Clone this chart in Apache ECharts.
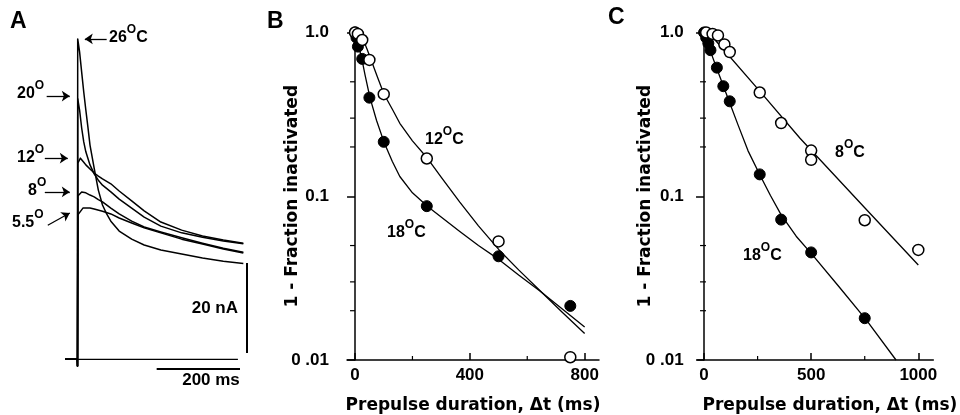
<!DOCTYPE html>
<html>
<head>
<meta charset="utf-8">
<script src="https://cdn.jsdelivr.net/npm/echarts@6/dist/echarts.min.js"></script>
<style>
html, body { margin: 0; padding: 0; background: #fff; }
#chart { width: 960px; height: 415px; }
</style>
</head>
<body>
<div id="chart"></div>
<script>
// ---- panel A: current traces, [time (ms), current (nA)] ----
var trace26 = [[-30,0],[-0.5,0],[0,-1.5],[0.5,71.2],[5,68.3],[10,63.8],[15,59.4],[20,55.4],[25,51.6],[30,47.6],[40,42.5],[50,37.6],[60,34.3],[70,32.3],[80,30.7],[100,28.5],[130,26.7],[160,25.4],[200,24.3],[250,23.4],[300,22.5],[350,21.8],[398,21.3]];
var trace20 = [[-30,0],[-0.5,0],[0,-1.5],[0.6,57.9],[5,55.4],[10,51.4],[15,48.3],[20,46.1],[30,43.2],[40,41.2],[50,39.8],[60,38.7],[80,37.2],[100,35.6],[130,33.6],[160,31.6],[200,29.6],[250,28.1],[300,27.1],[350,26.3],[398,25.7]];
var trace12 = [[-30,0],[-0.5,0],[0,-1.5],[0.7,43.6],[7,44.7],[15,43.8],[20,43.2],[30,42.3],[40,41.4],[50,40.7],[60,40.1],[80,39.0],[100,37.4],[130,35.2],[160,33.0],[200,30.5],[250,28.7],[300,27.4],[350,26.5],[398,25.8]];
var trace8 = [[-30,0],[-0.5,0],[0,-1.5],[0.8,36.3],[10,37.2],[20,37.0],[30,36.5],[40,36.1],[50,35.5],[60,35.0],[80,33.6],[100,32.3],[130,30.7],[160,29.4],[200,28.3],[250,27.0],[300,25.8],[350,24.7],[398,23.8]];
var trace55 = [[-30,0],[-0.5,0],[0,-1.5],[0.9,32.1],[13,33.6],[30,33.6],[40,33.4],[60,32.9],[80,32.3],[100,31.4],[130,30.3],[160,29.2],[200,28.1],[250,26.7],[300,25.6],[350,24.5],[398,23.6]];
var baseline = [[-30,0],[385,0]];
var barTime = [190, 390];      // 200 ms
var barCurrent = [1.4, 21.4];  // 20 nA

// ---- panel B: 1 - fraction inactivated vs prepulse duration ----
var b18Points = [[0,1.0],[5,0.93],[10,0.82],[25,0.69],[50,0.40],[100,0.215],[250,0.087],[500,0.043],[750,0.0214]];
var b12Points = [[0,1.0],[10,0.98],[25,0.9],[50,0.68],[100,0.42],[250,0.17],[500,0.053],[750,0.0104]];
var b18Fit = [[0,1.0],[10,0.86],[23,0.70],[35,0.55],[52,0.40],[75,0.29],[101,0.214],[130,0.163],[156,0.132],[200,0.105],[253,0.0865],[300,0.0748],[365,0.061],[430,0.050],[502,0.041],[570,0.033],[643,0.0265],[720,0.0206],[800,0.0159]];
var b12Fit = [[0,1.0],[15,0.96],[29,0.9],[42,0.79],[56,0.68],[78,0.535],[101,0.42],[130,0.34],[156,0.279],[200,0.218],[253,0.17],[300,0.131],[365,0.092],[430,0.066],[502,0.047],[570,0.0355],[643,0.0267],[720,0.0197],[800,0.0145]];

// ---- panel C ----
var c18Points = [[0,1.0],[10,0.93],[20,0.86],[30,0.78],[60,0.61],[90,0.47],[120,0.38],[260,0.136],[360,0.072],[500,0.0454],[750,0.018]];
var c8Points = [[10,1.0],[40,0.98],[65,0.96],[95,0.845],[120,0.76],[260,0.43],[360,0.28],[500,0.19],[500,0.167],[750,0.0714],[1000,0.047]];
var c18Fit = [[0,1.0],[25,0.8],[56,0.62],[117,0.38],[160,0.27],[205,0.19],[262,0.134],[310,0.101],[360,0.077],[430,0.057],[505,0.044],[630,0.028],[758,0.0175],[896,0.01]];
var c8Fit = [[20,1.0],[83,0.81],[262,0.435],[448,0.226],[750,0.085],[1000,0.038]];

// ---- ticks ----
var yTickValues = [0.01, 0.1, 1];
var yTickLabels = ['0 .01', '0.1', '1.0'];
var yMinorTicks = [0.02, 0.03, 0.05, 0.2, 0.3, 0.5];
var bMajorX = [0, 400, 800];
var bMinorX = [200, 600];
var cMajorX = [0, 500, 1000];
var cMinorX = [250, 750];

var black = '#000';
var helv = '"Liberation Sans", Arial, Helvetica, sans-serif';
var wide = '"DejaVu Sans", "Liberation Sans", sans-serif';

var myChart = echarts.init(document.getElementById('chart'), null, { renderer: 'canvas' });

function yLabel(v) {
    for (var i = 0; i < yTickValues.length; i++) {
        if (Math.abs(Math.log10(v) - Math.log10(yTickValues[i])) < 0.01) return yTickLabels[i];
    }
    return '';
}

function trace(data) {
    return {
        type: 'line', xAxisIndex: 0, yAxisIndex: 0, data: data,
        showSymbol: false, smooth: false, clip: false, silent: true,
        lineStyle: { color: black, width: 1.5, join: 'round' }
    };
}

function fitLine(ax, data) {
    return {
        type: 'line', xAxisIndex: ax, yAxisIndex: ax, data: data,
        showSymbol: false, smooth: false, clip: false, silent: true,
        lineStyle: { color: black, width: 1.3, join: 'round' }, z: 2
    };
}

function dots(ax, data, open) {
    return {
        type: 'scatter', xAxisIndex: ax, yAxisIndex: ax, data: data,
        symbol: 'circle', symbolSize: 11, clip: false, silent: true, z: open ? 4 : 3,
        itemStyle: open
            ? { color: '#fff', borderColor: black, borderWidth: 1.5, opacity: 1 }
            : { color: black, borderColor: black, borderWidth: 1, opacity: 1 }
    };
}

// short tick marks drawn at axis positions (log minor ticks and x minor ticks)
function yTicks(ax, left, right) {
    return {
        type: 'custom', xAxisIndex: ax, yAxisIndex: ax, silent: true, clip: false, z: 5,
        data: yMinorTicks.map(function (v) { return [0, v]; }),
        renderItem: function (params, api) {
            var p = api.coord([api.value(0), api.value(1)]);
            return {
                type: 'line',
                shape: { x1: p[0] - left, y1: p[1], x2: p[0] + right, y2: p[1] },
                style: { stroke: black, lineWidth: 1.2 }
            };
        }
    };
}

function xTicks(ax, ticks) {
    return {
        type: 'custom', xAxisIndex: ax, yAxisIndex: ax, silent: true, clip: false, z: 5,
        data: ticks.map(function (v) { return [v, 0.01]; }),
        renderItem: function (params, api) {
            var p = api.coord([api.value(0), api.value(1)]);
            return {
                type: 'line',
                shape: { x1: p[0], y1: p[1], x2: p[0], y2: p[1] - 4 },
                style: { stroke: black, lineWidth: 1.2 }
            };
        }
    };
}

function logAxis(grid, margin, gap) {
    return {
        type: 'log', gridIndex: grid, min: 0.01, max: 1, logBase: 10,
        axisLine: { show: true, onZero: true, lineStyle: { color: black, width: 1.5 } },
        axisTick: { show: true, length: 8, lineStyle: { color: black, width: 1.5 } },
        axisLabel: { margin: margin, color: black, fontFamily: helv, fontWeight: 'bold', fontSize: 17, formatter: yLabel },
        splitLine: { show: false },
        name: '1 - Fraction inactivated', nameLocation: 'middle', nameGap: gap, nameMoveOverlap: false,
        nameTextStyle: { color: black, fontFamily: wide, fontWeight: 'bold', fontSize: 17 }
    };
}

function timeAxis(grid, min, max, ticks, padLeft) {
    return {
        type: 'value', gridIndex: grid, min: min, max: max, position: 'bottom',
        axisLine: { onZero: false, lineStyle: { color: black, width: 1.5 } },
        axisTick: { inside: true, length: 7, customValues: ticks, lineStyle: { color: black, width: 1.5 } },
        axisLabel: {
            customValues: ticks, margin: 7, color: black, fontFamily: helv, fontWeight: 'bold', fontSize: 17,
            formatter: function (v) { return String(v); }
        },
        splitLine: { show: false },
        name: 'Prepulse duration, \u0394t (ms)', nameLocation: 'middle', nameGap: 37, nameMoveOverlap: false,
        nameTextStyle: { color: black, fontFamily: wide, fontWeight: 'bold', fontSize: 17, padding: [0, 0, 0, padLeft] }
    };
}

var rich = {
    a: { fontSize: 16, fontWeight: 'bold', fontFamily: helv, lineHeight: 28, color: black },
    s: { fontSize: 12, fontWeight: 'bold', fontFamily: helv, lineHeight: 13, verticalAlign: 'top', color: black }
};

function degText(x, y, num, unit) {
    return {
        type: 'text', x: x, y: y, silent: true,
        style: { text: '{a|' + num + '}{s|O}' + (unit ? '{a|C}' : ''), rich: rich, verticalAlign: 'middle', align: 'left' }
    };
}

function plainText(x, y, text, size, align) {
    return {
        type: 'text', x: x, y: y, silent: true,
        style: { text: text, fill: black, fontFamily: helv, fontWeight: 'bold', fontSize: size, align: align, verticalAlign: 'middle' }
    };
}

function arrow(from, to) {
    return [{ coord: from }, { coord: to }];
}

var option = {
    backgroundColor: '#fff',
    animation: false,
    grid: [
        { left: 0, top: 35.3, width: 250, height: 342, containLabel: false, outerBoundsMode: 'none' },
        { left: 347, top: 32.5, width: 252, height: 327.5, containLabel: false, outerBoundsMode: 'none' },
        { left: 697.6, top: 32.5, width: 235.7, height: 327.5, containLabel: false, outerBoundsMode: 'none' }
    ],
    xAxis: [
        { type: 'value', gridIndex: 0, min: -186, max: 414, show: false },
        timeAxis(1, -28, 850, bMajorX, 0),
        timeAxis(2, -30, 1070, cMajorX, 29)
    ],
    yAxis: [
        { type: 'value', gridIndex: 0, min: -4, max: 72, show: false },
        logAxis(1, 18, 46),
        logAxis(2, 14, 44)
    ],
    series: [
        trace(trace55), trace(trace8), trace(trace12), trace(trace20), trace(trace26),
        {
            type: 'line', xAxisIndex: 0, yAxisIndex: 0, data: baseline,
            showSymbol: false, silent: true, clip: false,
            lineStyle: { color: black, width: 1.2 },
            markLine: {
                silent: true, animation: false,
                symbol: ['none', 'arrow'], symbolSize: 8,
                label: { show: false },
                lineStyle: { color: black, width: 1.3, type: 'solid' },
                data: [
                    arrow([70, 71.2], [17.5, 71.2]),
                    arrow([-74, 58.5], [-18.5, 58.5]),
                    arrow([-78.5, 44.7], [-23.3, 44.7]),
                    arrow([-78.5, 37.2], [-18.5, 37.2]),
                    arrow([-71.3, 29.8], [-18.5, 32.5])
                ]
            }
        },
        {
            type: 'line', xAxisIndex: 0, yAxisIndex: 0, data: [],
            markLine: {
                silent: true, animation: false, symbol: ['none', 'none'],
                label: { show: false },
                lineStyle: { color: black, width: 2, type: 'solid' },
                data: [
                    [{ coord: [barTime[0], -2.2] }, { coord: [barTime[1], -2.2] }],
                    [{ coord: [406, barCurrent[0]] }, { coord: [406, barCurrent[1]] }]
                ]
            }
        },
        fitLine(1, b12Fit), fitLine(1, b18Fit),
        dots(1, b18Points, false), dots(1, b12Points, true),
        yTicks(1, 5, 0), xTicks(1, bMinorX),
        fitLine(2, c8Fit), fitLine(2, c18Fit),
        dots(2, c18Points, false), dots(2, c8Points, true),
        yTicks(2, 4, 2), xTicks(2, cMinorX)
    ],
    graphic: [
        plainText(10, 22, 'A', 23, 'left'),
        plainText(267, 21.5, 'B', 23, 'left'),
        plainText(608, 17.5, 'C', 23, 'left'),
        degText(109, 37.5, '26', true),
        degText(17, 94, '20', false),
        degText(17, 157.5, '12', false),
        degText(28, 191, '8', false),
        degText(12, 223, '5.5', false),
        plainText(238, 308, '20 nA', 17, 'right'),
        plainText(211, 380, '200 ms', 17, 'center'),
        degText(425, 140, '12', true),
        degText(387, 232.5, '18', true),
        degText(835, 152.5, '8', true),
        degText(743, 256, '18', true)
    ]
};

myChart.setOption(option);
</script>
</body>
</html>
